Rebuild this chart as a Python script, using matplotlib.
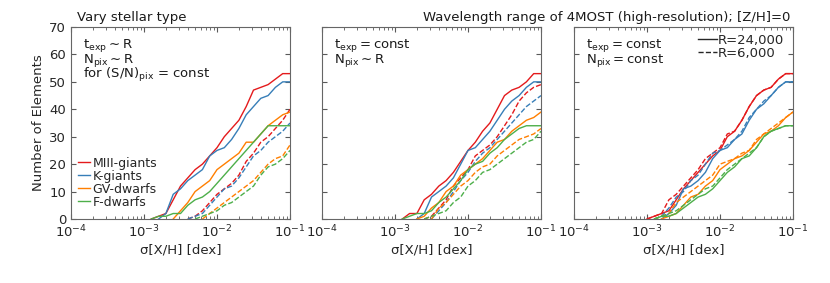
"""Cumulative number of elements vs. abundance precision for 4MOST HR setups."""

import numpy as np
import matplotlib
matplotlib.use("Agg")
import matplotlib.pyplot as plt
from matplotlib.lines import Line2D

plt.rcParams["font.family"] = ["DejaVu Sans"]
plt.rcParams["font.size"] = 9.5
plt.rcParams["mathtext.default"] = "regular"

log_sigma = [-3.0, -2.9, -2.8, -2.7, -2.6, -2.5, -2.4, -2.3, -2.2, -2.1, -2.0,
             -1.9, -1.8, -1.7, -1.6, -1.5, -1.4, -1.3, -1.2, -1.1, -1.0]

stars = ["MIII-giants", "K-giants", "GV-dwarfs", "F-dwarfs"]
star_colors = ["#e41a1c", "#377eb8", "#ff7f00", "#4daf4a"]

# panel 1: vary stellar type (t_exp ~ R, N_pix ~ R)
p1_hr = [
    [0, 0, 1, 2, 7, 12, 15, 18, 20, 23, 26, 30, 33, 36, 41, 47, 48, 49, 51, 53, 53],
    [0, 0, 0, 2, 9, 11, 14, 16, 18, 23, 25, 26, 29, 33, 38, 41, 44, 45, 48, 50, 50],
    [0, 0, 0, 0, 0, 3, 6, 10, 12, 14, 18, 20, 22, 24, 28, 28, 31, 34, 36, 38, 39],
    [0, 0, 1, 1, 2, 2, 5, 7, 8, 10, 13, 16, 19, 22, 25, 28, 31, 34, 34, 34, 34],
]
p1_lr = [
    [0, 0, 0, 0, 0, 0, 0, 1, 3, 6, 9, 11, 13, 16, 21, 24, 28, 30, 33, 36, 40],
    [0, 0, 0, 0, 0, 0, 0, 1, 2, 5, 8, 11, 12, 15, 19, 23, 25, 28, 30, 32, 35],
    [0, 0, 0, 0, 0, 0, 0, 0, 0, 2, 4, 6, 8, 10, 12, 14, 17, 20, 22, 23, 27],
    [0, 0, 0, 0, 0, 0, 0, 0, 1, 2, 3, 5, 6, 8, 10, 12, 16, 19, 20, 22, 25],
]

# panel 2: t_exp = const, N_pix ~ R
p2_hr = [
    [0, 0, 2, 2, 7, 9, 12, 14, 17, 21, 25, 28, 32, 35, 40, 45, 47, 48, 50, 53, 53],
    [0, 0, 0, 0, 2, 8, 10, 12, 15, 20, 25, 26, 29, 32, 36, 40, 43, 45, 48, 50, 50],
    [0, 0, 0, 0, 1, 4, 6, 10, 12, 16, 18, 20, 22, 25, 28, 29, 32, 34, 36, 37, 39],
    [0, 0, 1, 2, 2, 3, 6, 8, 11, 14, 18, 20, 21, 24, 26, 29, 31, 33, 34, 34, 34],
]
p2_lr = [
    [0, 0, 0, 0, 0, 1, 4, 7, 12, 15, 18, 23, 25, 27, 30, 34, 38, 43, 46, 48, 49],
    [0, 0, 0, 0, 0, 0, 3, 6, 10, 14, 17, 21, 24, 26, 29, 32, 35, 38, 41, 43, 45],
    [0, 0, 0, 0, 0, 0, 4, 6, 9, 12, 14, 17, 19, 20, 23, 25, 27, 29, 30, 31, 33],
    [0, 0, 0, 0, 0, 1, 2, 3, 6, 8, 12, 14, 17, 18, 20, 22, 24, 26, 28, 29, 32],
]

# panel 3: t_exp = const, N_pix = const
p3_hr = [
    [0, 1, 2, 3, 7, 11, 14, 17, 20, 23, 25, 30, 32, 36, 41, 45, 47, 48, 51, 53, 53],
    [0, 0, 0, 2, 5, 11, 12, 14, 17, 22, 25, 26, 29, 31, 36, 40, 42, 45, 48, 50, 50],
    [0, 0, 0, 1, 2, 5, 8, 9, 12, 14, 18, 20, 22, 23, 25, 28, 31, 32, 34, 37, 39],
    [0, 0, 1, 1, 2, 4, 6, 8, 9, 11, 14, 17, 19, 22, 23, 26, 30, 32, 33, 34, 34],
]
p3_lr = [
    [0, 1, 2, 7, 9, 12, 15, 18, 22, 24, 26, 31, 32, 36, 41, 45, 47, 48, 51, 53, 53],
    [0, 0, 1, 4, 8, 10, 14, 16, 20, 24, 25, 27, 29, 32, 37, 40, 43, 45, 48, 50, 50],
    [0, 0, 1, 2, 6, 8, 10, 12, 14, 16, 20, 21, 22, 24, 25, 29, 31, 33, 35, 37, 39],
    [0, 0, 1, 2, 3, 5, 7, 9, 11, 12, 15, 18, 20, 22, 24, 26, 30, 32, 33, 34, 34],
]

panel_notes = [
    ["$t_{exp} \\sim R$", "$N_{pix} \\sim R$", "for $(S/N)_{pix}$ = const"],
    ["$t_{exp} = const$", "$N_{pix} \\sim R$"],
    ["$t_{exp} = const$", "$N_{pix} = const$"],
]
res_labels = ["R=24,000", "R=6,000"]


def draw_curve(ax, counts, color, ls):
    counts = np.asarray(counts)
    start = max(int(np.argmax(counts > 0)) - 1, 0)
    x = 10.0 ** np.asarray(log_sigma)
    ax.plot(x[start:], counts[start:], color=color, ls=ls, lw=1.0)


fig = plt.figure(figsize=(8.3, 2.83), dpi=100)
lefts = [71 / 830, 322 / 830, 574 / 830]
panels = [(p1_hr, p1_lr), (p2_hr, p2_lr), (p3_hr, p3_lr)]
axes = []
for i, (hr, lr) in enumerate(panels):
    ax = fig.add_axes([lefts[i], 64 / 283, 219 / 830, 192 / 283])
    axes.append(ax)
    for k in range(len(stars)):
        draw_curve(ax, hr[k], star_colors[k], "-")
        draw_curve(ax, lr[k], star_colors[k], "--")
    ax.set_xscale("log")
    ax.set_xlim(1e-4, 1e-1)
    ax.set_ylim(0, 70)
    ax.set_yticks(range(0, 71, 10))
    ax.tick_params(which="both", direction="in", top=True, right=True,
                   colors="0.35", labelcolor="0.15")
    ax.tick_params(which="major", length=3.5)
    ax.tick_params(which="minor", length=2)
    for sp in ax.spines.values():
        sp.set_color("0.4")
    ax.set_xlabel("σ[X/H] [dex]", color="0.15", labelpad=2)
    if i > 0:
        ax.set_yticklabels([])
    baselines = [0.891, 0.8125, 0.734]
    for j, note in enumerate(panel_notes[i]):
        ax.text(0.057, baselines[j], note, transform=ax.transAxes,
                va="baseline", ha="left", color="0.1")

axes[0].set_ylabel("Number of Elements", color="0.15", labelpad=3)

star_handles = [Line2D([], [], color=c, lw=1.0) for c in star_colors]
axes[0].legend(star_handles, stars, loc="upper left", bbox_to_anchor=(0.03, 0.325),
               frameon=False, fontsize=9, labelspacing=0.0, handlelength=1.0,
               handletextpad=0.2, borderpad=0.0, borderaxespad=0.0, labelcolor="0.15")

res_handles = [Line2D([], [], color="0.15", lw=1.0, ls="-"),
               Line2D([], [], color="0.15", lw=1.0, ls="--")]
axes[2].legend(res_handles, res_labels, loc="upper right", bbox_to_anchor=(0.96, 0.965),
               frameon=False, fontsize=9.5, labelspacing=0.0, handlelength=1.4,
               handletextpad=0.1, borderpad=0.0, borderaxespad=0.0, labelcolor="0.15")

fig.text(77 / 830, 1 - 17 / 283, "Vary stellar type", ha="left", va="center", color="0.1")
fig.text(790 / 830, 1 - 17 / 283, "Wavelength range of 4MOST (high-resolution); [Z/H]=0",
         ha="right", va="center", color="0.1")

fig.savefig("out.png", dpi=100)
